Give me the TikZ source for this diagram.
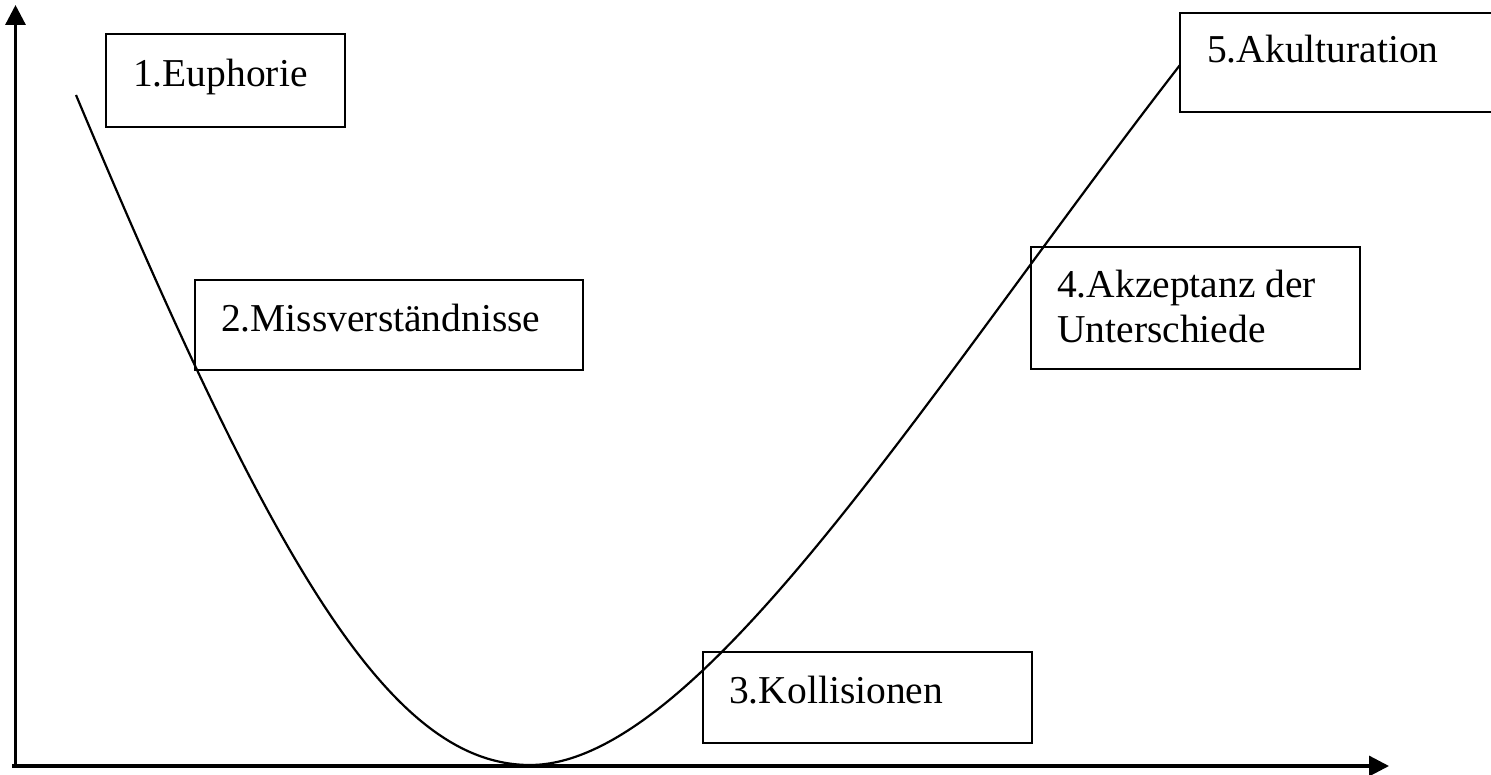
\documentclass[tikz,border=0pt]{standalone}
\usepackage{fontspec}
\setmainfont{Liberation Serif}
\usetikzlibrary{arrows.meta}
\begin{document}
\begin{tikzpicture}[x=1pt,y=-1pt,
  axis/.style={line width=3.2pt,-{Triangle[length=20pt,width=20pt]}},
  stagebox/.style={draw,line width=2.4pt,inner sep=0pt,outer sep=0pt,anchor=north west},
  lbl/.style={anchor=base west,inner sep=0pt,font=\fontsize{39.5}{45}\selectfont},
  curve/.style={line width=2.2pt}]
\useasboundingbox (0,0) rectangle (1491,775);
\clip (0,0) rectangle (1491,775);
% axes
\coordinate (origin) at (15.5,766);
\coordinate (xstart) at (12,766);
\coordinate (ytop) at (15.5,5);
\coordinate (xend) at (1389,766);
\draw[axis] (origin) -- (ytop);
\draw[axis] (xstart) -- (xend);
% curve
\coordinate (cstart) at (76,95);
\coordinate (cmin) at (530,765);
\coordinate (cend) at (1180,65);
\draw[curve] (cstart) .. controls (273,565) and (390,765) .. (cmin)
  .. controls (700,765) and (930,387.5) .. (cend);
% boxes
\node[stagebox,minimum width=239pt,minimum height=93pt] (b1) at (106,34) {};
\node[lbl] (t1) at (133,87) {1.Euphorie};
\node[stagebox,minimum width=388pt,minimum height=90pt] (b2) at (195,280) {};
\node[lbl] (t2) at (221,332) {2.Missverständnisse};
\node[stagebox,minimum width=329pt,minimum height=91pt] (b3) at (703,652) {};
\node[lbl] (t3) at (729,703) {3.Kollisionen};
\node[stagebox,minimum width=329pt,minimum height=122pt] (b4) at (1031,247) {};
\node[lbl] (t4a) at (1057,298) {4.Akzeptanz der};
\node[lbl] (t4b) at (1057,343) {Unterschiede};
\node[stagebox,minimum width=330pt,minimum height=99pt] (b5) at (1180,13) {};
\node[lbl] (t5) at (1207,63) {5.Akulturation};
\end{tikzpicture}
\end{document}
